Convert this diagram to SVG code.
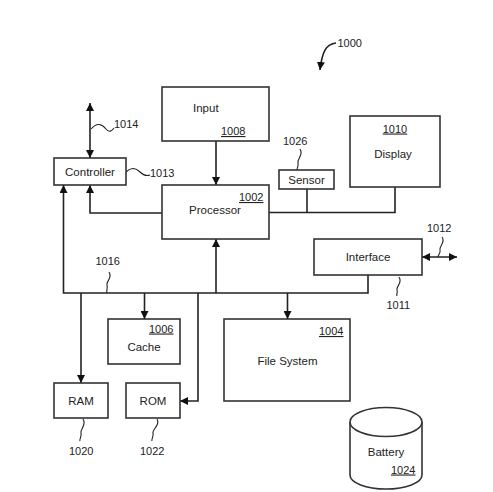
<svg xmlns="http://www.w3.org/2000/svg" width="493" height="492" viewBox="0 0 493 492">
<defs>
<style>
.box{fill:#fff;stroke:#333;stroke-width:1.6}
.ln{fill:none;stroke:#222;stroke-width:1.6}
.sq{fill:none;stroke:#222;stroke-width:1.1}
text{font-family:"Liberation Sans",Arial,sans-serif;font-size:11.5px;fill:#222}
.n{font-size:11px}
.u{text-decoration:underline}
</style>
<marker id="ah" viewBox="0 0 10 10" refX="10" refY="5" markerWidth="5" markerHeight="5" orient="auto-start-reverse" markerUnits="strokeWidth">
<path d="M0,0 L10,5 L0,10 z" fill="#111"/>
</marker>
</defs>
<rect width="493" height="492" fill="#fff"/>
<g id="connectors">
<path class="ln" d="M216,141 V185" marker-end="url(#ah)"/>
<path class="ln" d="M90,103 V158" marker-start="url(#ah)" marker-end="url(#ah)"/>
<path class="ln" d="M162,213 H90 V185" marker-end="url(#ah)"/>
<path class="ln" d="M269,212.5 H395 V187"/>
<path class="ln" d="M307,189 V212.5"/>
<path class="ln" d="M422,257 H457" marker-start="url(#ah)" marker-end="url(#ah)"/>
<path class="ln" d="M368,275 V293 H63.5 V185" marker-end="url(#ah)"/>
<path class="ln" d="M216,293 V239" marker-end="url(#ah)"/>
<path class="ln" d="M81,293 V383" marker-end="url(#ah)"/>
<path class="ln" d="M144.5,293 V319" marker-end="url(#ah)"/>
<path class="ln" d="M198,293 V401 H180" marker-end="url(#ah)"/>
<path class="ln" d="M287.5,293 V319" marker-end="url(#ah)"/>
<path class="ln" d="M336,43 C326,44 322,52 320,70" marker-end="url(#ah)"/>
<path class="sq" d="M91,129 C97,122 102,124 106,129 C109,133 112,131 114,128"/>
<path class="sq" d="M126,172 C131,167 136,168 140,172 C144,176 147,176 150,175"/>
<path class="sq" d="M300,149 C304,155 297,158 298,163 C299,167 296,169 297,171"/>
<path class="sq" d="M442,237 C446,242 439,246 440,250 C441,253 438,255 438,257"/>
<path class="sq" d="M399,277 C403,283 396,286 397,290 C398,293 396,294 397,296"/>
<path class="sq" d="M109,272 C113,278 106,281 107,285 C108,289 106,291 107,293"/>
<path class="sq" d="M83,419 C87,425 80,429 81,433 C82,437 79,439 80,441"/>
<path class="sq" d="M157,419 C161,425 152,429 153,433 C154,437 151,439 152,441"/>
</g>
<g id="input"><rect class="box" x="162" y="87" width="107" height="54"/><text x="193" y="112">Input</text><text class="n u" x="221" y="135">1008</text></g>
<g id="processor"><rect class="box" x="162" y="185" width="107" height="54"/><text class="n u" x="239" y="201">1002</text><text x="215" y="214" text-anchor="middle">Processor</text></g>
<g id="controller"><rect class="box" x="54" y="158" width="72" height="27"/><text x="90" y="175.5" text-anchor="middle">Controller</text></g>
<g id="display"><rect class="box" x="350" y="116" width="90" height="71"/><text class="n u" x="395" y="132.5" text-anchor="middle">1010</text><text x="393" y="157.5" text-anchor="middle">Display</text></g>
<g id="sensor"><rect class="box" x="279" y="170" width="55" height="19"/><text x="306.5" y="183.5" text-anchor="middle">Sensor</text></g>
<g id="interface"><rect class="box" x="314" y="239" width="108" height="36"/><text x="368" y="261" text-anchor="middle">Interface</text></g>
<g id="cache"><rect class="box" x="108" y="319" width="72" height="45"/><text class="n u" x="149" y="332.5">1006</text><text x="144" y="350.5" text-anchor="middle">Cache</text></g>
<g id="filesystem"><rect class="box" x="224" y="319" width="126" height="82"/><text class="n u" x="319" y="335">1004</text><text x="287.5" y="364.5" text-anchor="middle">File System</text></g>
<g id="ram"><rect class="box" x="54" y="383" width="54" height="35"/><text x="81" y="404.5" text-anchor="middle">RAM</text></g>
<g id="rom"><rect class="box" x="126" y="383" width="54" height="35"/><text x="153" y="404.5" text-anchor="middle">ROM</text></g>
<g id="battery"><path class="box" d="M350,422 V475 A36,14 0 0 0 422,475 V422"/><ellipse class="box" cx="386" cy="422" rx="36" ry="14.5"/><text x="386" y="455.5" text-anchor="middle">Battery</text><text class="n u" x="391" y="473.5">1024</text></g>
<g id="labels">
<text class="n" x="337.5" y="47">1000</text>
<text class="n" x="114" y="128">1014</text>
<text class="n" x="150" y="177">1013</text>
<text class="n" x="283" y="144.5">1026</text>
<text class="n" x="427" y="232">1012</text>
<text class="n" x="386.5" y="309">1011</text>
<text class="n" x="95.5" y="265">1016</text>
<text class="n" x="69" y="454.5">1020</text>
<text class="n" x="140" y="454.5">1022</text>
</g>
</svg>
